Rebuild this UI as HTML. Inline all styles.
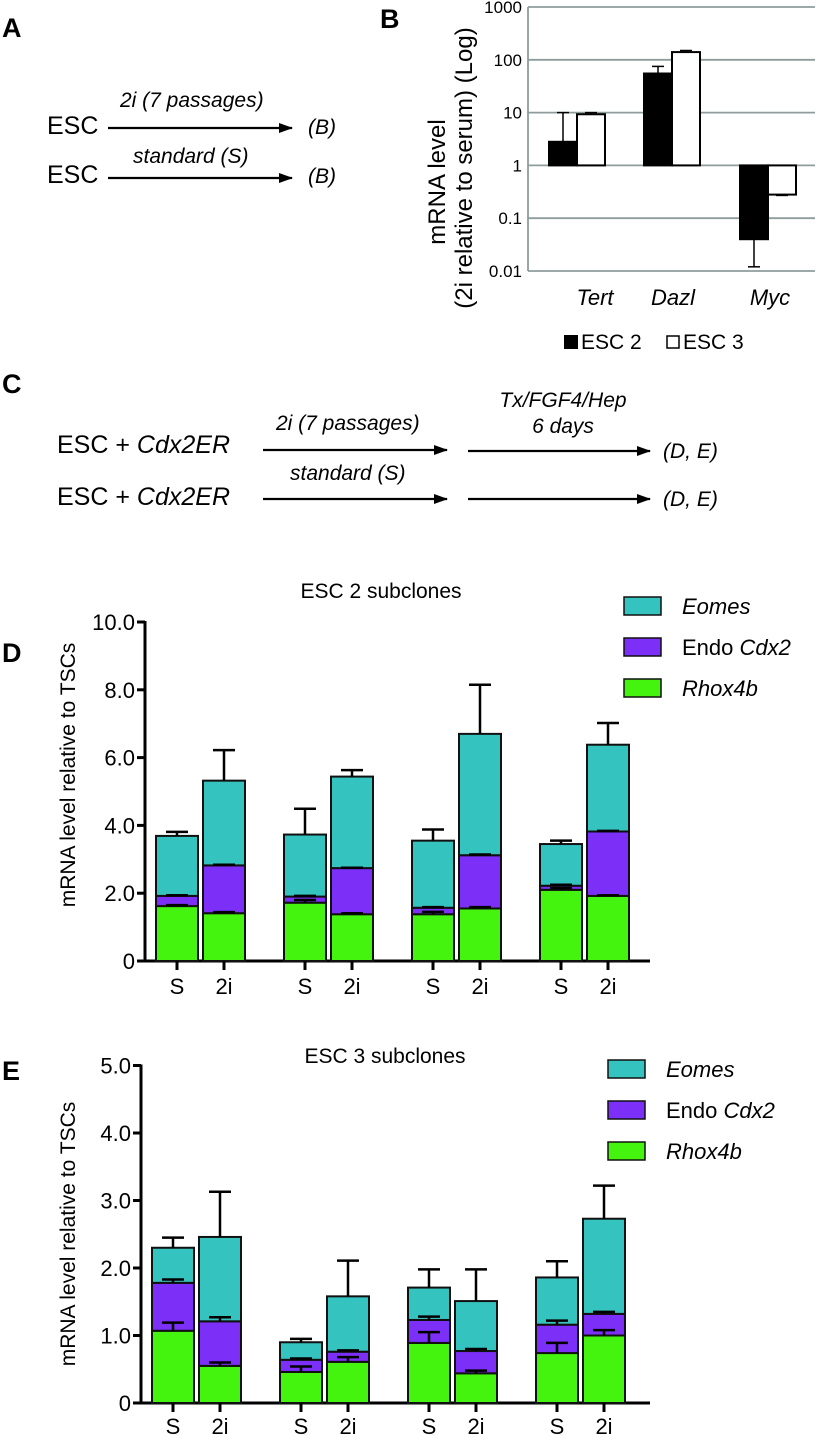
<!DOCTYPE html>
<html><head><meta charset="utf-8"><style>
html,body{margin:0;padding:0;background:#fff}
svg{display:block;font-family:"Liberation Sans",Arial,sans-serif}
</style></head><body>
<svg id="fig" width="829" height="1438" viewBox="0 0 829 1438" xmlns="http://www.w3.org/2000/svg">
<defs><marker id="ah" markerWidth="14" markerHeight="10" refX="13" refY="5" orient="auto" markerUnits="userSpaceOnUse"><path d="M0,0 L14,5 L0,10 z" fill="#000"/></marker></defs>
<g>
<text x="2" y="37" font-size="27" font-weight="bold">A</text>
<text x="47" y="134" font-size="25">ESC</text>
<line x1="108" y1="128" x2="292" y2="128" stroke="#000" stroke-width="2.2" marker-end="url(#ah)"/>
<text x="120" y="107" font-size="21" font-style="italic">2i (7 passages)</text>
<text x="308" y="134" font-size="21" font-style="italic">(B)</text>
<text x="47" y="183" font-size="25">ESC</text>
<line x1="108" y1="178" x2="292" y2="178" stroke="#000" stroke-width="2.2" marker-end="url(#ah)"/>
<text x="133" y="163" font-size="21" font-style="italic">standard (S)</text>
<text x="308" y="183" font-size="21" font-style="italic">(B)</text>
</g>
<g>
<text x="2" y="393" font-size="27" font-weight="bold">C</text>
<text x="57" y="453" font-size="25">ESC + <tspan font-style="italic">Cdx2ER</tspan></text>
<text x="57" y="505" font-size="25">ESC + <tspan font-style="italic">Cdx2ER</tspan></text>
<line x1="263" y1="450" x2="447" y2="450" stroke="#000" stroke-width="2.2" marker-end="url(#ah)"/>
<line x1="263" y1="499" x2="447" y2="499" stroke="#000" stroke-width="2.2" marker-end="url(#ah)"/>
<line x1="468" y1="451" x2="650" y2="451" stroke="#000" stroke-width="2.2" marker-end="url(#ah)"/>
<line x1="468" y1="499" x2="650" y2="499" stroke="#000" stroke-width="2.2" marker-end="url(#ah)"/>
<text x="276" y="430" font-size="21" font-style="italic">2i (7 passages)</text>
<text x="290" y="480" font-size="21" font-style="italic">standard (S)</text>
<text x="563" y="407" font-size="21" font-style="italic" text-anchor="middle">Tx/FGF4/Hep</text>
<text x="563" y="433" font-size="21" font-style="italic" text-anchor="middle">6 days</text>
<text x="663" y="458" font-size="21" font-style="italic">(D, E)</text>
<text x="663" y="506" font-size="21" font-style="italic">(D, E)</text>
</g>
<g id="pb"></g>
<g id="pd"></g>
<g id="pe"></g>
</svg>
<script>
const bGenes = ["Tert","Dazl","Myc"];
const bEsc2 = [2.8, 55, 0.04];
const bEsc2Err = [10, 75, 0.012];
const bEsc3 = [9.3, 140, 0.28];
const bEsc3Err = [10, 150, 0.27];
const bTicks = [0.01,0.1,1,10,100,1000];
const bTickLabels = ["0.01","0.1","1","10","100","1000"];

const dCats = ["S","2i","S","2i","S","2i","S","2i"];
const dRhox = [1.62,1.41,1.72,1.38,1.38,1.55,2.10,1.92];
const dRhoxErr = [0.03,0.03,0.08,0.03,0.07,0.04,0.05,0.02];
const dCdx2 = [0.30,1.41,0.18,1.36,0.19,1.57,0.12,1.90];
const dCdx2Err = [0.02,0.02,0.02,0.01,0.02,0.02,0.03,0.02];
const dEomes = [1.77,2.50,1.83,2.70,1.98,3.58,1.23,2.56];
const dEomesErr = [0.12,0.90,0.76,0.19,0.33,1.45,0.10,0.64];
const dTicks = [0,2,4,6,8,10];
const dTickLabels = ["0","2.0","4.0","6.0","8.0","10.0"];

const eCats = ["S","2i","S","2i","S","2i","S","2i"];
const eRhox = [1.07,0.55,0.46,0.61,0.89,0.44,0.74,1.00];
const eRhoxErr = [0.12,0.05,0.08,0.07,0.16,0.04,0.15,0.08];
const eCdx2 = [0.71,0.66,0.18,0.15,0.34,0.33,0.42,0.32];
const eCdx2Err = [0.05,0.06,0.02,0.02,0.05,0.03,0.06,0.03];
const eEomes = [0.52,1.25,0.26,0.82,0.48,0.74,0.70,1.41];
const eEomesErr = [0.15,0.67,0.05,0.53,0.27,0.47,0.24,0.49];
const eTicks = [0,1,2,3,4,5];
const eTickLabels = ["0","1.0","2.0","3.0","4.0","5.0"];

const NS="http://www.w3.org/2000/svg";
function mk(parent, tag, attrs, text){
  const el=document.createElementNS(NS,tag);
  for(const k in attrs) el.setAttribute(k,attrs[k]);
  if(text!==undefined) el.textContent=text;
  parent.appendChild(el);
  return el;
}

(function(){
  const g=document.getElementById('pb');
  const x0=528,x1=815,yTop=7,yDec=52.8;
  const y=v=>yTop+(3-Math.log10(v))*yDec;
  let t=mk(g,'text',{x:380,y:28,'font-size':27,'font-weight':'bold'},'B');
  
  
  bTicks.forEach((v,i)=>{
    let l=mk(g,'line',{x1:x0,x2:x1,y1:y(v),y2:y(v),stroke:'#8f9c9c','stroke-width':1.8});
    
    
    let tl=mk(g,'text',{x:522,y:y(v)+6,'font-size':17,'text-anchor':'end'},bTickLabels[i]);
    
    
  });
  let ax=mk(g,'line',{x1:x0,x2:x0,y1:y(1000),y2:y(0.01),stroke:'#8f9c9c','stroke-width':1.8});
  
  
  const centers=[577,672,768];
  const labelX=[595,673,770];
  bGenes.forEach((gn,i)=>{
    const cx=centers[i];
    [[bEsc2,bEsc2Err,'#000',cx-28,'b-bar-esc2'],[bEsc3,bEsc3Err,'#fff',cx,'b-bar-esc3']].forEach(([vals,errs,fill,bx,nm])=>{
      const v=vals[i],e=errs[i];
      const ex=bx+14;
      let el=mk(g,'line',{x1:ex,x2:ex,y1:y(v),y2:y(e),stroke:'#000','stroke-width':1.5});
      
      
      let cap=mk(g,'line',{x1:ex-6,x2:ex+6,y1:y(e),y2:y(e),stroke:'#000','stroke-width':1.5});
      
      
      const yt=Math.min(y(v),y(1)),yb=Math.max(y(v),y(1));
      let r=mk(g,'rect',{x:bx,y:yt,width:28,height:yb-yt,fill:fill,stroke:'#000','stroke-width':2});
      
      
    });
    let lb=mk(g,'text',{x:labelX[i],y:305,'font-size':22,'font-style':'italic','text-anchor':'middle'},gn);
    
    
  });
  let yl=mk(g,'text',{transform:'translate(445,182) rotate(-90)','font-size':24,'text-anchor':'middle'},'mRNA level');
  
  
  let yl2=mk(g,'text',{transform:'translate(472,168) rotate(-90)','font-size':24,'text-anchor':'middle'},'(2i relative to serum)   (Log)');
  
  
  let k1=mk(g,'rect',{x:564,y:335,width:14,height:14,fill:'#000'});
  
  
  let k1t=mk(g,'text',{x:581,y:349,'font-size':21},'ESC 2');
  
  
  let k2=mk(g,'rect',{x:667,y:336,width:12,height:12,fill:'#fff',stroke:'#000','stroke-width':1.5});
  
  
  let k2t=mk(g,'text',{x:683,y:349,'font-size':21},'ESC 3');
  
  
})();

const TEAL='#35c3c0',PURP='#7b2ff7',GREEN='#44f40e';
function stacked(gid,o){
  const g=document.getElementById(gid);
  const y=v=>o.y0-v*o.ppu;
  let pl=mk(g,'text',{x:2,y:o.labelY,'font-size':27,'font-weight':'bold'},o.letter);
  
  
  let tt=mk(g,'text',{x:o.titleX,y:o.titleY,'font-size':21,'text-anchor':'middle'},o.title);
  
  
  let ya=mk(g,'line',{x1:o.ax,x2:o.ax,y1:y(o.ticks[o.ticks.length-1])-1,y2:o.y0+1.5,stroke:'#000','stroke-width':3});
  
  
  let xa=mk(g,'line',{x1:o.ax-8,x2:650,y1:o.y0,y2:o.y0,stroke:'#000','stroke-width':3});
  
  
  o.ticks.forEach((v,i)=>{
    let tk=mk(g,'line',{x1:o.ax-8,x2:o.ax,y1:y(v),y2:y(v),stroke:'#000','stroke-width':3});
    
    
    let tl=mk(g,'text',{x:o.ax-10,y:y(v)+8,'font-size':22,'text-anchor':'end'},o.tickLabels[i]);
    
    
  });
  let yt=mk(g,'text',{transform:`translate(75,${o.ylabY}) rotate(-90)`,'font-size':21,'text-anchor':'middle'},'mRNA level relative to TSCs');
  
  
  const bw=42;
  o.cats.forEach((c,i)=>{
    const bx=o.ax+11+Math.floor(i/2)*128+(i%2)*47;
    const cx=bx+bw/2;
    const segs=[[o.rhox[i],o.rhoxErr[i],GREEN,'bar-rhox4b'],[o.cdx2[i],o.cdx2Err[i],PURP,'bar-endo-cdx2'],[o.eomes[i],o.eomesErr[i],TEAL,'bar-eomes']];
    let base=0;
    segs.forEach(([v,e,col,nm])=>{
      const top=base+v;
      let r=mk(g,'rect',{x:bx,y:y(top),width:bw,height:y(base)-y(top),fill:col,stroke:'#111','stroke-width':2});
      
      
      base=top;
    });
    base=0;
    segs.forEach(([v,e,col,nm])=>{
      const top=base+v;
      let eb=mk(g,'line',{x1:cx,x2:cx,y1:y(top),y2:y(top+e),stroke:'#000','stroke-width':2.5});
      
      
      let ec=mk(g,'line',{x1:cx-11,x2:cx+11,y1:y(top+e),y2:y(top+e),stroke:'#000','stroke-width':2.5});
      
      
      base=top;
    });
    let xt=mk(g,'line',{x1:cx,x2:cx,y1:o.y0,y2:o.y0+9,stroke:'#000','stroke-width':3});
    
    
    let xl=mk(g,'text',{x:cx,y:o.catY,'font-size':22,'text-anchor':'middle'},c);
    
    
  });
  const leg=[[TEAL,'Eomes',true,'legend-eomes'],[PURP,'Endo Cdx2',false,'legend-endo-cdx2'],[GREEN,'Rhox4b',true,'legend-rhox4b']];
  leg.forEach(([col,txt,it,nm],i)=>{
    const ly=o.legY+i*41;
    let r=mk(g,'rect',{x:o.legX,y:ly,width:37,height:18,fill:col,stroke:'#111','stroke-width':1.5});
    
    
    let t;
    if(it){ t=mk(g,'text',{x:o.legX+58,y:ly+17,'font-size':22,'font-style':'italic'},txt); }
    else { t=mk(g,'text',{x:o.legX+58,y:ly+17,'font-size':22},'Endo '); mk(t,'tspan',{'font-style':'italic'},'Cdx2'); }
    
    
  });
}
stacked('pd',{letter:'D',labelY:662,title:'ESC 2 subclones',titleX:381,titleY:598,ax:145,y0:961,ppu:33.9,ticks:dTicks,tickLabels:dTickLabels,ylabY:775,cats:dCats,rhox:dRhox,rhoxErr:dRhoxErr,cdx2:dCdx2,cdx2Err:dCdx2Err,eomes:dEomes,eomesErr:dEomesErr,catY:994,legX:624,legY:597});
stacked('pe',{letter:'E',labelY:1080,title:'ESC 3 subclones',titleX:385,titleY:1063,ax:141,y0:1403,ppu:67.5,ticks:eTicks,tickLabels:eTickLabels,ylabY:1234,cats:eCats,rhox:eRhox,rhoxErr:eRhoxErr,cdx2:eCdx2,cdx2Err:eCdx2Err,eomes:eEomes,eomesErr:eEomesErr,catY:1434,legX:608,legY:1060});
</script>
</body></html>
